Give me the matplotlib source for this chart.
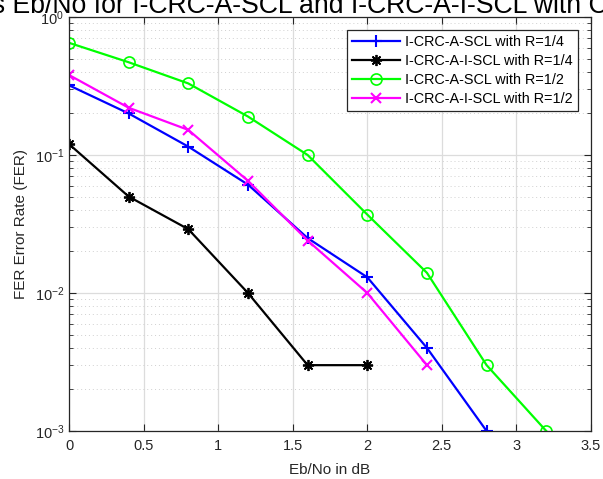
import matplotlib
matplotlib.use("Agg")
import matplotlib.pyplot as plt
from matplotlib.ticker import LogLocator, NullFormatter

plt.rcParams['font.family'] = ['Liberation Sans', 'DejaVu Sans']

ebno_r14 = [0, 0.4, 0.8, 1.2, 1.6, 2.0, 2.4, 2.8]
fer_scl_r14 = [0.32, 0.20, 0.115, 0.061, 0.025, 0.013, 0.004, 0.001]
ebno_r14_i = [0, 0.4, 0.8, 1.2, 1.6, 2.0]
fer_iscl_r14 = [0.12, 0.05, 0.029, 0.01, 0.003, 0.003]
ebno_r12 = [0, 0.4, 0.8, 1.2, 1.6, 2.0, 2.4, 2.8, 3.2]
fer_scl_r12 = [0.65, 0.47, 0.33, 0.19, 0.1, 0.037, 0.014, 0.003, 0.001]
ebno_r12_i = [0, 0.4, 0.8, 1.2, 1.6, 2.0, 2.4]
fer_iscl_r12 = [0.38, 0.22, 0.152, 0.065, 0.024, 0.01, 0.003]

labels = ['I-CRC-A-SCL with R=1/4', 'I-CRC-A-I-SCL with R=1/4',
          'I-CRC-A-SCL with R=1/2', 'I-CRC-A-I-SCL with R=1/2']
title_prefix = 'FER vs '
title_body = 'Eb/No for I-CRC-A-SCL and I-CRC-A-I-SCL with'
title = title_prefix + title_body + ' Code Rates'

W, H = 603, 479
fig = plt.figure(figsize=(W / 100, H / 100), dpi=100)
ax = fig.add_axes([69 / W, 1 - 431 / H, (591 - 69) / W, (431 - 17) / H])

ax.semilogy(ebno_r14, fer_scl_r14, color=(0, 0, 1), marker='+', ms=9, mew=1.5, lw=1.6, label=labels[0])
ax.semilogy(ebno_r14_i, fer_iscl_r14, color='k', marker=(8, 2, 0), ms=8, mew=1.3, lw=1.6, label=labels[1])
ax.semilogy(ebno_r12, fer_scl_r12, color=(0, 1, 0), marker='o', mfc='none', ms=8, mew=1.2, lw=1.6, label=labels[2])
ax.semilogy(ebno_r12_i, fer_iscl_r12, color=(1, 0, 1), marker='x', ms=7, mew=1.5, lw=1.6, label=labels[3])

ax.set_xlim(0, 3.5)
ax.set_ylim(1e-3, 1)
ax.set_xticks([0, 0.5, 1, 1.5, 2, 2.5, 3, 3.5])
ax.set_xticklabels(['0', '0.5', '1', '1.5', '2', '2.5', '3', '3.5'])
ax.yaxis.set_major_locator(LogLocator(base=10, numticks=10))
ax.yaxis.set_minor_locator(LogLocator(base=10, subs=range(2, 10), numticks=20))
ax.yaxis.set_minor_formatter(NullFormatter())

ax.grid(True, which='major', color='#dcdcdc', lw=0.9, ls='-')
ax.grid(True, which='minor', axis='y', color='#d0d0d0', lw=0.7, ls=(0, (1, 3)))
ax.set_axisbelow(True)

for s in ax.spines.values():
    s.set_color('#262626')
    s.set_linewidth(0.9)
ax.tick_params(which='both', direction='in', top=True, right=True, colors='#262626', labelsize=10.5)
ax.tick_params(which='major', length=5)
ax.tick_params(which='minor', length=3)
ax.tick_params(axis='x', pad=6)

ax.set_xlabel('Eb/No in dB', fontsize=11, color='#262626', labelpad=7)
ax.set_ylabel('FER Error Rate (FER)', fontsize=11, color='#262626', labelpad=5)

leg = ax.legend(loc='upper right', fontsize=10.4, frameon=True, fancybox=False,
                edgecolor='#262626', framealpha=1, borderaxespad=0.9,
                handlelength=3.3, labelspacing=0.34, borderpad=0.37, handletextpad=0.36)
leg.get_frame().set_linewidth(0.9)

# title: size and place so that the visible part matches the (cropped) reference
renderer = fig.canvas.get_renderer()
probe = fig.text(0, 0, title_body, fontsize=10)
body_w = probe.get_window_extent(renderer).width
probe.remove()
fs = 10 * 570 / body_w
probe = fig.text(0, 0, title_prefix, fontsize=fs)
pre_w = probe.get_window_extent(renderer).width
probe.remove()
x0 = (13 - pre_w) / W
fig.text(x0, 1 - 13 / H, title, ha='left', va='baseline', fontsize=fs, color='k')

fig.savefig('out.png', dpi=100)
